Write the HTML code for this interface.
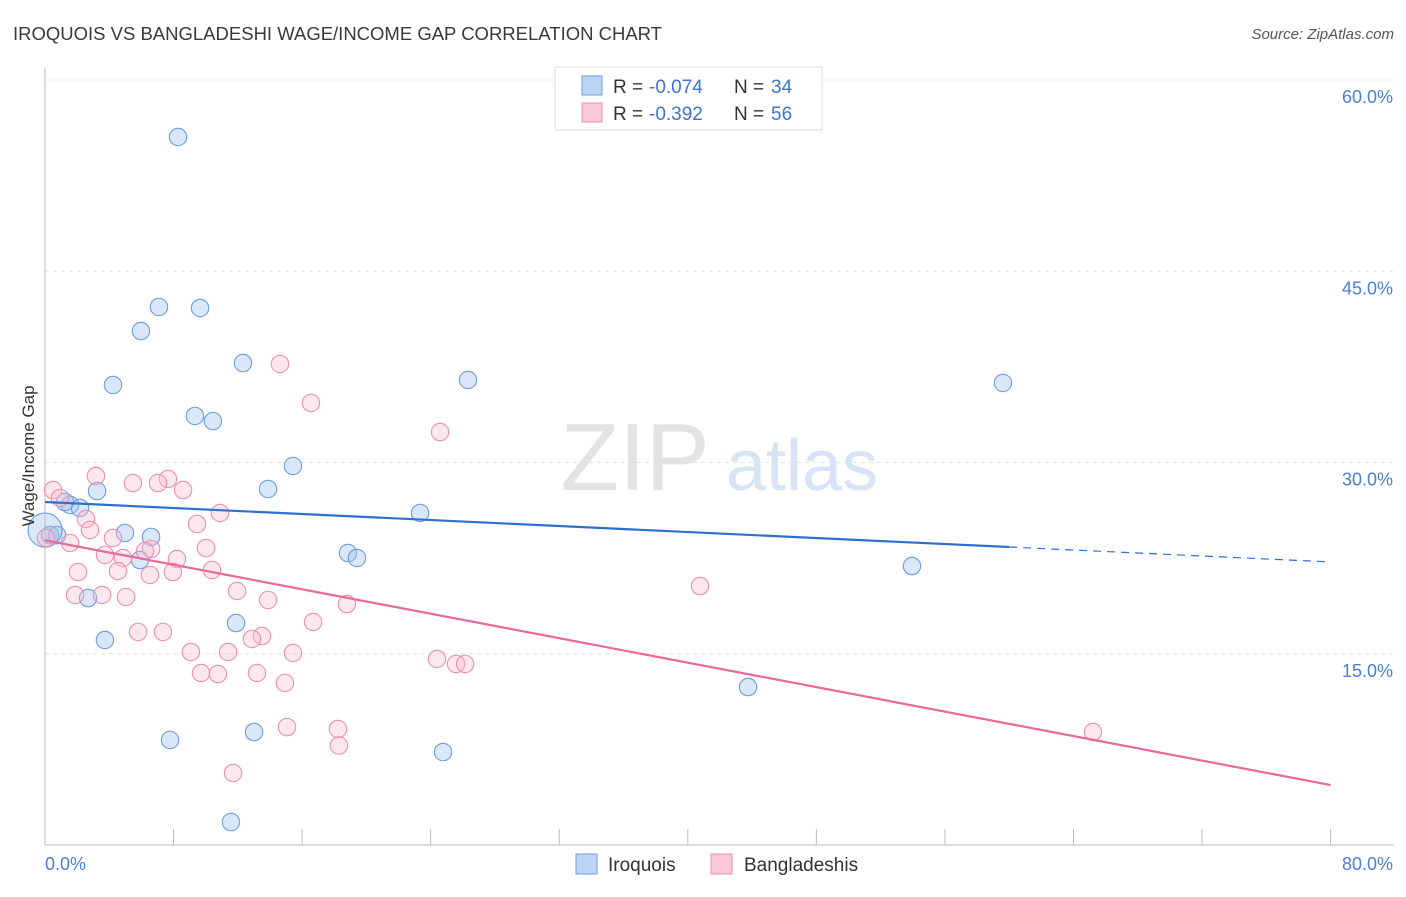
<!DOCTYPE html>
<html><head><meta charset="utf-8"><style>
body{margin:0;background:#fff;font-family:"Liberation Sans",sans-serif}
svg text{font-family:"Liberation Sans",sans-serif}
</style></head><body>
<svg id="chart" width="1406" height="892" xmlns="http://www.w3.org/2000/svg">
<text x="13" y="40" font-size="18.5" fill="#3a3a3a">IROQUOIS VS BANGLADESHI WAGE/INCOME GAP CORRELATION CHART</text>
<text x="1394" y="39" font-size="15" fill="#555" text-anchor="end" font-style="italic">Source: ZipAtlas.com</text>
<g id="grid"></g>
<g>
<text x="635" y="490" font-size="96" fill="#e3e3e3" font-family="Liberation Serif" text-anchor="middle">ZIP</text>
<text x="802" y="490" font-size="72" fill="#d6e4f5" text-anchor="middle">atlas</text>
</g>
<g id="pts"></g>
<g id="lines"></g>
<text transform="translate(34,456) rotate(-90)" font-size="17" fill="#333" text-anchor="middle">Wage/Income Gap</text>
<text x="45" y="870" font-size="18" fill="#4a7fd4">0.0%</text>
<text x="1393" y="870" font-size="18" fill="#4a7fd4" text-anchor="end">80.0%</text>
<g>
<rect x="555" y="67" width="267" height="63" fill="#fff" stroke="#ddd"/>
<rect x="582" y="76" width="20" height="19" fill="#bcd5f5" stroke="#6b9de0"/>
<rect x="582" y="103" width="20" height="19" fill="#fbcad9" stroke="#ec8fb0"/>
<text y="93" font-size="19" fill="#333"><tspan x="613">R =</tspan><tspan x="649" fill="#3d74d1">-0.074</tspan><tspan x="734">N =</tspan><tspan x="771" fill="#3d74d1">34</tspan></text>
<text y="120" font-size="19" fill="#333"><tspan x="613">R =</tspan><tspan x="649" fill="#3d74d1">-0.392</tspan><tspan x="734">N =</tspan><tspan x="771" fill="#3d74d1">56</tspan></text>
</g>
<g>
<rect x="576" y="854" width="21" height="20" fill="#bcd5f5" stroke="#6b9de0"/>
<text x="608" y="871" font-size="19" fill="#333">Iroquois</text>
<rect x="711" y="854" width="21" height="20" fill="#fbcad9" stroke="#ec8fb0"/>
<text x="744" y="871" font-size="19" fill="#333">Bangladeshis</text>
</g>
</svg>
<script>
const yTicks=[15,30,45,60];
const yTickLabels=["15.0%","30.0%","45.0%","60.0%"];
const xTicks=[0,8,16,24,32,40,48,56,64,72,80];
const iroX=[8.28,7.09,9.65,5.97,12.32,4.23,26.32,59.61,9.33,10.45,15.43,3.24,13.88,1.56,2.18,23.34,4.98,6.60,0.31,5.91,18.85,19.41,53.95,2.68,11.89,3.73,43.75,13.01,7.78,24.77,11.57,1.24,0.75];
const iroY=[55.53,42.2,42.12,40.31,37.8,36.08,36.47,36.24,33.65,33.25,29.73,27.76,27.92,26.67,26.43,26.04,24.47,24.16,24.31,22.35,22.9,22.51,21.88,19.37,17.41,16.08,12.39,8.86,8.24,7.29,1.8,26.9,24.3];
const banX=[14.62,16.55,24.58,3.17,7.65,5.47,7.03,8.59,0.5,0.93,10.89,2.55,9.46,2.8,4.23,1.56,6.6,6.22,10.02,3.73,4.85,8.21,2.05,4.54,7.96,10.39,6.53,11.95,1.87,3.55,5.04,13.88,18.79,40.76,16.68,5.79,7.34,13.5,12.88,9.08,11.39,15.43,24.39,25.58,26.14,9.71,10.76,13.19,14.93,15.06,18.23,18.29,11.7,65.21,0.06];
const banY=[37.73,34.67,32.39,28.94,28.71,28.39,28.39,27.84,27.84,27.22,26.04,25.57,25.18,24.71,24.08,23.69,23.22,23.06,23.29,22.75,22.51,22.43,21.41,21.49,21.41,21.57,21.18,19.92,19.61,19.61,19.45,19.22,18.9,20.31,17.49,16.71,16.71,16.39,16.16,15.14,15.14,15.06,14.59,14.2,14.2,13.49,13.41,13.49,12.71,9.25,9.1,7.8,5.65,8.86,24.08];
const iroLine=[[0,26.9],[60,23.37]],iroDash=[[60,23.37],[80,22.2]];
const banLine=[[0,23.9],[80,4.7]];
const X=v=>45+v*16.07, Y=v=>845-v*12.75;
const NS="http://www.w3.org/2000/svg";
function mk(t,a,p){const e=document.createElementNS(NS,t);for(const k in a)e.setAttribute(k,a[k]);p.appendChild(e);return e;}
const grid=document.getElementById('grid');
yTicks.forEach((t,i)=>{const l=mk('line',{x1:45,x2:1394,y1:Y(t),y2:Y(t),stroke:'#e4e4e4','stroke-dasharray':'4,4'},grid);

const tx=mk('text',{x:1393,y:Y(t)+23,'font-size':18,fill:'#4a7fd4','text-anchor':'end'},grid);tx.textContent=yTickLabels[i];
});
const ax=mk('line',{x1:45,x2:45,y1:68,y2:845,stroke:'#bbb'},grid);
const bx=mk('line',{x1:45,x2:1394,y1:845,y2:845,stroke:'#bbb'},grid);
xTicks.forEach(t=>{const l=mk('line',{x1:X(t),x2:X(t),y1:829,y2:845,stroke:'#bbb'},grid);});
const pts=document.getElementById('pts');
iroX.forEach((x,i)=>{const c=mk('circle',{cx:X(x),cy:Y(iroY[i]),r:8.7,fill:'rgba(160,195,240,0.4)',stroke:'#6b9de0','stroke-width':1.1},pts);
});
const big=mk('circle',{cx:X(0),cy:Y(24.7),r:17,fill:'rgba(160,195,240,0.4)',stroke:'#6b9de0','stroke-width':1.1},pts);

banX.forEach((x,i)=>{const c=mk('circle',{cx:X(x),cy:Y(banY[i]),r:8.7,fill:'rgba(248,185,205,0.35)',stroke:'#ec8fb0','stroke-width':1.1},pts);
});
const lines=document.getElementById('lines');
const l1=mk('line',{x1:X(iroLine[0][0]),y1:Y(iroLine[0][1]),x2:X(iroLine[1][0]),y2:Y(iroLine[1][1]),stroke:'#2f6fd0','stroke-width':2.2},lines);

const l2=mk('line',{x1:X(iroDash[0][0]),y1:Y(iroDash[0][1]),x2:X(iroDash[1][0]),y2:Y(iroDash[1][1]),stroke:'#2f6fd0','stroke-width':1.2,'stroke-dasharray':'8,6'},lines);

const l3=mk('line',{x1:X(banLine[0][0]),y1:Y(banLine[0][1]),x2:X(banLine[1][0]),y2:Y(banLine[1][1]),stroke:'#e8699a','stroke-width':2.2},lines);

</script>
</body></html>
